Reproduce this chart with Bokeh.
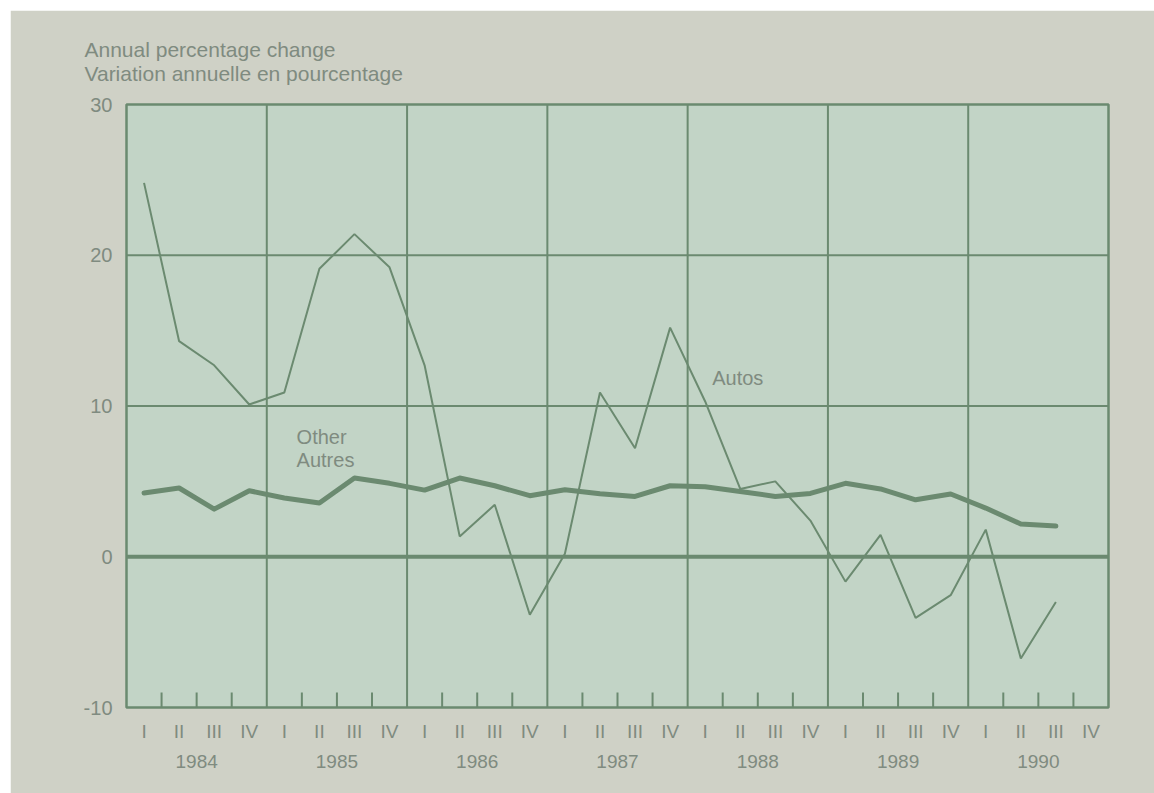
from bokeh.plotting import figure
from bokeh.models import LinearAxis, FixedTicker, Range1d, Label, Title
from bokeh.embed import file_html
from bokeh.resources import INLINE

# ---- data ----
years = ["1984", "1985", "1986", "1987", "1988", "1989", "1990"]
quarter_names = ["I", "II", "III", "IV"]
autos = [24.8, 14.3, 12.7, 10.1,
         10.9, 19.1, 21.4, 19.2,
         12.7, 1.35, 3.45, -3.85,
         0.2, 10.9, 7.2, 15.2,
         10.3, 4.5, 5.0, 2.4,
         -1.65, 1.45, -4.05, -2.55,
         1.8, -6.75, -3.0]
other = [4.23, 4.56, 3.16, 4.38,
         3.9, 3.56, 5.22, 4.87,
         4.42, 5.22, 4.71, 4.05,
         4.45, 4.18, 4.0, 4.71,
         4.65, 4.33, 4.0, 4.2,
         4.87, 4.5, 3.78, 4.16,
         3.23, 2.17, 2.04]
y_ticks = [-10, 0, 10, 20, 30]
y_tick_labels = ["-10", "0", "10", "20", "30"]
title_lines = ["Annual percentage change", "Variation annuelle en pourcentage"]

# ---- styles ----
PANEL = "#cfd1c6"
PLOTBG = "#c2d4c6"
LINE = "#6b8a70"
TEXT = "#7f8b80"
FONT = "Liberation Sans"

nq = len(years) * 4
# x unit = half a quarter: quarter i centre at 2*i+1
xq = [2 * i + 1 for i in range(len(autos))]
xo = [2 * i + 1 for i in range(len(other))]

p = figure(width=1144, height=783, output_backend="svg", toolbar_location=None,
           x_axis_type=None, y_axis_type=None,
           x_range=Range1d(0, 2 * nq), y_range=Range1d(-10, 30),
           min_border_left=116, min_border_right=46, min_border_top=94,
           min_border_bottom=86, margin=(10, 0, 0, 10))
p.background_fill_color = PLOTBG
p.border_fill_color = PANEL
p.outline_line_color = LINE
p.outline_line_width = 2.5
p.grid.visible = False

# horizontal grid lines
for yv in [10, 20]:
    p.line([0, 2 * nq], [yv, yv], line_color=LINE, line_width=2)
# zero line
p.line([0, 2 * nq], [0, 0], line_color=LINE, line_width=4)
# year boundaries
for k in range(1, len(years)):
    p.line([8 * k, 8 * k], [-10, 30], line_color=LINE, line_width=2)
# quarter tick marks inside bottom
qt = [8 * k + 2 * j for k in range(len(years)) for j in (1, 2, 3)]
p.segment(x0=qt, y0=[-10] * len(qt), x1=qt, y1=[-9.0] * len(qt),
          line_color=LINE, line_width=2)

# series
p.line(xq, autos, line_color=LINE, line_width=2)
p.line(xo, other, line_color=LINE, line_width=5, line_join="round", line_cap="round")

# y axis
ya = LinearAxis(ticker=FixedTicker(ticks=y_ticks))
ya.major_label_overrides = dict(zip(y_ticks, y_tick_labels))
ya.axis_line_color = None
ya.major_tick_line_color = None
ya.minor_tick_line_color = None
ya.major_label_standoff = 8
ya.major_label_text_font = FONT
ya.major_label_text_font_size = "20px"
ya.major_label_text_color = TEXT
p.add_layout(ya, "left")

# quarter axis
qa = LinearAxis(ticker=FixedTicker(ticks=[2 * i + 1 for i in range(nq)]))
qa.major_label_overrides = {2 * i + 1: quarter_names[i % 4] for i in range(nq)}
qa.axis_line_color = None
qa.major_tick_line_color = None
qa.minor_tick_line_color = None
qa.major_label_standoff = 7
qa.major_label_text_font = FONT
qa.major_label_text_font_size = "19px"
qa.major_label_text_color = TEXT
p.add_layout(qa, "below")

# year axis
yc = [8 * k + 4 for k in range(len(years))]
ya2 = LinearAxis(ticker=FixedTicker(ticks=yc))
ya2.major_label_overrides = {8 * k + 4: years[k] for k in range(len(years))}
ya2.axis_line_color = None
ya2.major_tick_line_color = None
ya2.minor_tick_line_color = None
ya2.major_label_standoff = 4
ya2.major_label_text_font = FONT
ya2.major_label_text_font_size = "19px"
ya2.major_label_text_color = TEXT
p.add_layout(ya2, "below")

# axis title (two lines) above the frame
p.add_layout(Title(text="\n".join(title_lines), align="left", offset=-42, standoff=38,
                   text_font=FONT, text_font_size="21px", text_font_style="normal",
                   text_color=TEXT, text_line_height=1.05), "above")

# series labels
for txt, xx, yy in [("Autos", 33.4, 11.88), ("Other", 9.7, 7.95), ("Autres", 9.7, 6.45)]:
    p.add_layout(Label(x=xx, y=yy, text=txt, text_font=FONT, text_font_size="20px",
                       text_color=TEXT, text_baseline="middle", text_align="left"))

open("out.html", "w").write(file_html(p, INLINE))
